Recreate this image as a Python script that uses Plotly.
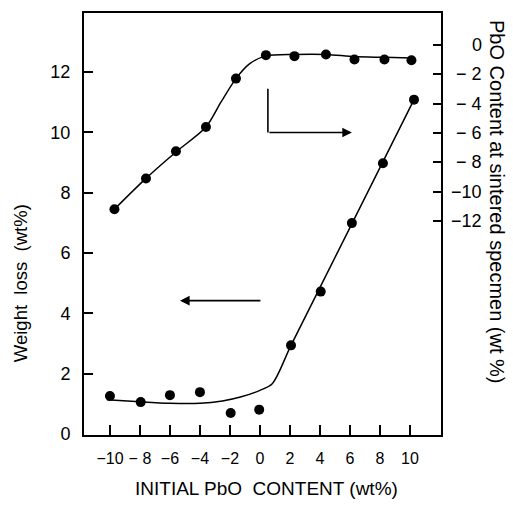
import plotly.graph_objects as go

# ---- data ----
# weight loss (left axis) vs initial PbO content
wl_x = [-10, -7.95, -6, -4, -1.95, -0.05, 2.07, 4.05, 6.13, 8.2, 10.27]
wl_y = [1.26, 1.06, 1.29, 1.39, 0.70, 0.81, 2.94, 4.72, 6.99, 8.97, 11.08]
wl_fit_x = [-10.2, -8, -6, -4, -2.5, -1.3, 0, 0.82, 2.07, 6.0, 10.27]
wl_fit_y = [1.14, 1.07, 1.02, 1.02, 1.10, 1.23, 1.45, 1.67, 2.94, 6.84, 11.08]

# PbO content at sintered specimen (right axis)
pc_x = [-9.7, -7.6, -5.6, -3.6, -1.6, 0.4, 2.3, 4.4, 6.3, 8.3, 10.1]
pc_y = [-11.2, -9.1, -7.25, -5.6, -2.3, -0.7, -0.77, -0.66, -1.0, -1.0, -1.05]
pc_fit_x = [-9.7, -7.6, -5.6, -3.6, -2.6, -1.6, -0.7, 0.4, 2.3, 4.4, 6.3, 8.3, 10.1]
pc_fit_y = [-11.2, -9.1, -7.3, -5.6, -3.9, -2.3, -1.3, -0.75, -0.65, -0.65, -0.8, -0.85, -0.9]

x_tickvals = [-10, -8, -6, -4, -2, 0, 2, 4, 6, 8, 10]
x_ticktext = ["\u221210", "\u2212 8", "\u22126", "\u22124", "\u22122", "0", "2", "4", "6", "8", "10"]
y_tickvals = [0, 2, 4, 6, 8, 10, 12]
y2_tickvals = [0, -2, -4, -6, -8, -10, -12]
y2_ticktext = ["0", "\u2212 2", "\u2212 4", "\u2212 6", "\u2212 8", "\u221210", "\u221212"]

FONT = "Liberation Sans, Arial, sans-serif"

fig = go.Figure()
fig.add_trace(go.Scatter(x=wl_fit_x, y=wl_fit_y, mode="lines",
                         line=dict(color="black", width=1.5, shape="spline", smoothing=0.8),
                         showlegend=False, hoverinfo="skip"))
fig.add_trace(go.Scatter(x=wl_x, y=wl_y, mode="markers",
                         marker=dict(color="black", size=10), showlegend=False))
fig.add_trace(go.Scatter(x=pc_fit_x, y=pc_fit_y, mode="lines", yaxis="y2",
                         line=dict(color="black", width=1.5, shape="spline", smoothing=0.8),
                         showlegend=False, hoverinfo="skip"))
fig.add_trace(go.Scatter(x=pc_x, y=pc_y, mode="markers", yaxis="y2",
                         marker=dict(color="black", size=10), showlegend=False))

annotations = []
# right axis tick labels, right aligned
for v, t in zip(y2_tickvals, y2_ticktext):
    annotations.append(dict(x=1.12, xref="paper", y=v, yref="y2", text=t, showarrow=False,
                            xanchor="right", yanchor="middle",
                            font=dict(family=FONT, size=18, color="black")))
# axis titles
annotations.append(dict(x=0.51, y=-0.127, xref="paper", yref="paper",
                        text="INITIAL PbO  CONTENT (wt%)", showarrow=False,
                        xanchor="center", yanchor="middle",
                        font=dict(family=FONT, size=19, color="black")))
annotations.append(dict(x=-0.179, y=0.36, xref="paper", yref="paper",
                        text="Weight  loss  (wt%)", showarrow=False, textangle=-90,
                        xanchor="center", yanchor="middle",
                        font=dict(family=FONT, size=18.5, color="black")))
annotations.append(dict(x=1.157, y=0.552, xref="paper", yref="paper",
                        text="PbO Content at sintered specmen (wt %)", showarrow=False, textangle=90,
                        xanchor="center", yanchor="middle",
                        font=dict(family=FONT, size=20, color="black")))
# arrows
annotations.append(dict(x=-5.33, y=4.42, xref="x", yref="y", ax=0.13, ay=4.42,
                        axref="x", ayref="y", showarrow=True, arrowhead=2,
                        arrowsize=1.2, arrowwidth=1.6, arrowcolor="black", text=""))
annotations.append(dict(x=6.13, y=9.99, xref="x", yref="y", ax=0.53, ay=9.99,
                        axref="x", ayref="y", showarrow=True, arrowhead=2,
                        arrowsize=1.2, arrowwidth=1.6, arrowcolor="black", text=""))

fig.update_layout(
    width=513, height=507,
    margin=dict(l=84, r=72, t=11, b=72),
    paper_bgcolor="white", plot_bgcolor="white",
    font=dict(family=FONT, size=18, color="black"),
    xaxis=dict(range=[-11.73, 12.07], tickvals=x_tickvals, ticktext=x_ticktext,
               tickangle=0, tickfont=dict(size=16),
               ticks="inside", ticklen=10, tickwidth=1.5, tickcolor="black",
               showline=True, linecolor="black", linewidth=2, mirror=True,
               showgrid=False, zeroline=False, ticklabelstandoff=8),
    yaxis=dict(range=[-0.03, 13.95], tickvals=y_tickvals,
               ticks="inside", ticklen=9, tickwidth=1.5, tickcolor="black",
               showline=True, linecolor="black", linewidth=2,
               showgrid=False, zeroline=False, ticklabelstandoff=8),
    yaxis2=dict(range=[-26.58, 2.17], tickvals=y2_tickvals, overlaying="y", side="right",
                ticks="inside", ticklen=8, tickwidth=1.5, tickcolor="black",
                showticklabels=False,
                showline=True, linecolor="black", linewidth=2,
                showgrid=False, zeroline=False),
    shapes=[dict(type="line", xref="x", yref="y", x0=0.53, x1=0.53, y0=11.44, y1=9.99,
                 line=dict(color="black", width=1.6))],
    annotations=annotations,
)

fig.write_html("out.html")
